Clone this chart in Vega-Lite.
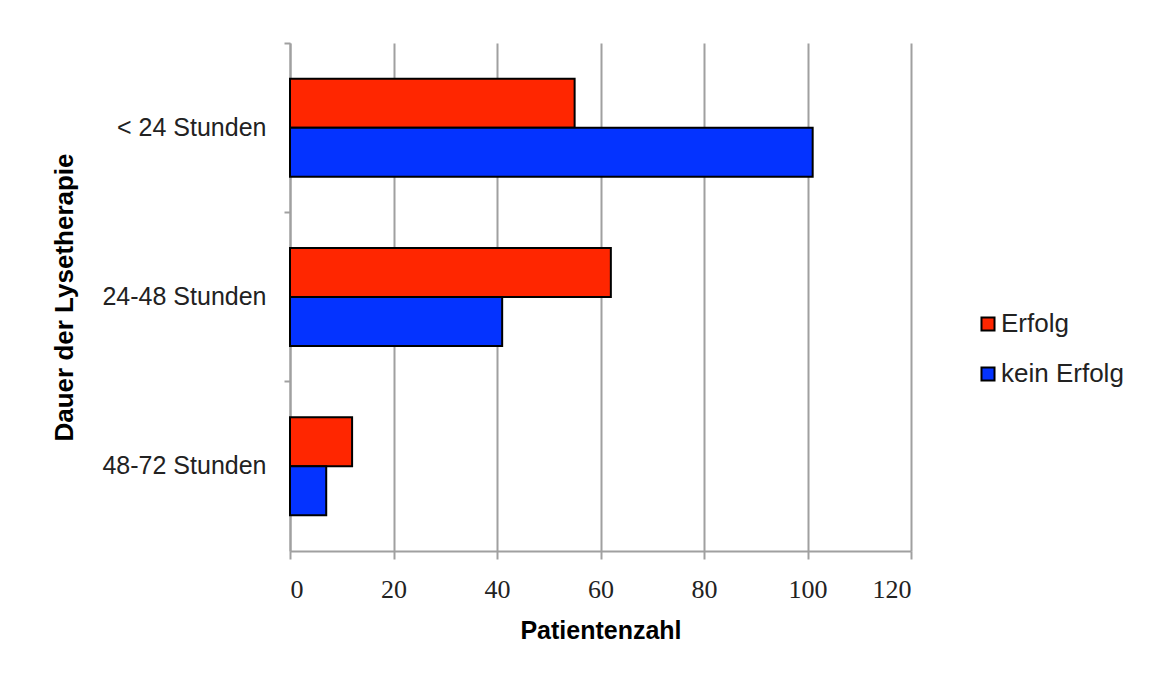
{
  "$schema": "https://vega.github.io/schema/vega-lite/v6.json",
  "width": 621,
  "height": 508,
  "padding": {"left": 51, "top": 42, "right": 10, "bottom": 10},
  "background": "white",
  "data": {
    "values": [
      {"dauer": "< 24 Stunden", "ergebnis": "Erfolg", "patienten": 55},
      {"dauer": "< 24 Stunden", "ergebnis": "kein Erfolg", "patienten": 101},
      {"dauer": "24-48 Stunden", "ergebnis": "Erfolg", "patienten": 62},
      {"dauer": "24-48 Stunden", "ergebnis": "kein Erfolg", "patienten": 41},
      {"dauer": "48-72 Stunden", "ergebnis": "Erfolg", "patienten": 12},
      {"dauer": "48-72 Stunden", "ergebnis": "kein Erfolg", "patienten": 7}
    ]
  },
  "mark": {"type": "bar", "stroke": "black", "strokeWidth": 2},
  "encoding": {
    "y": {
      "field": "dauer",
      "type": "nominal",
      "sort": ["< 24 Stunden", "24-48 Stunden", "48-72 Stunden"],
      "scale": {"paddingInner": 0, "paddingOuter": 0},
      "axis": {
        "title": "Dauer der Lysetherapie",
        "titleFont": "Liberation Sans",
        "titleFontSize": 26,
        "titleFontWeight": "bold",
        "titleColor": "black",
        "titlePadding": 24,
        "labelFont": "Liberation Sans",
        "labelFontSize": 25,
        "labelFontWeight": "normal",
        "labelColor": "#222222",
        "labelPadding": 18,
        "tickSize": 6,
        "tickWidth": 2,
        "tickColor": "#a0a0a0",
        "bandPosition": 0,
        "domainColor": "#a0a0a0",
        "domainWidth": 2,
        "grid": false
      }
    },
    "yOffset": {
      "field": "ergebnis",
      "type": "nominal",
      "sort": ["Erfolg", "kein Erfolg"],
      "scale": {"paddingInner": 0, "paddingOuter": 0.727}
    },
    "x": {
      "field": "patienten",
      "type": "quantitative",
      "scale": {"domain": [0, 120], "nice": false},
      "axis": {
        "title": "Patientenzahl",
        "titleFont": "Liberation Sans",
        "titleFontSize": 25,
        "titleFontWeight": "bold",
        "titleColor": "black",
        "titlePadding": 16,
        "labelFont": "Liberation Serif",
        "labelFontSize": 26,
        "labelColor": "#222222",
        "labelPadding": 17,
        "values": [0, 20, 40, 60, 80, 100, 120],
        "tickSize": 8,
        "tickWidth": 2,
        "tickColor": "#a0a0a0",
        "domainColor": "#a0a0a0",
        "domainWidth": 2,
        "grid": true,
        "gridColor": "#a0a0a0",
        "gridWidth": 2,
        "gridOpacity": 1
      }
    },
    "fill": {
      "field": "ergebnis",
      "type": "nominal",
      "sort": ["Erfolg", "kein Erfolg"],
      "scale": {"domain": ["Erfolg", "kein Erfolg"], "range": ["#ff2600", "#0433ff"]},
      "legend": {
        "title": null,
        "orient": "none",
        "legendX": 685,
        "legendY": 268,
        "symbolType": "square",
        "symbolSize": 170,
        "symbolStrokeColor": "black",
        "symbolStrokeWidth": 2,
        "labelFont": "Liberation Sans",
        "labelFontSize": 26,
        "labelColor": "#222222",
        "labelOffset": 0,
        "rowPadding": 24
      }
    }
  },
  "config": {
    "view": {"stroke": null},
    "axis": {"labelFontWeight": "normal"}
  }
}
